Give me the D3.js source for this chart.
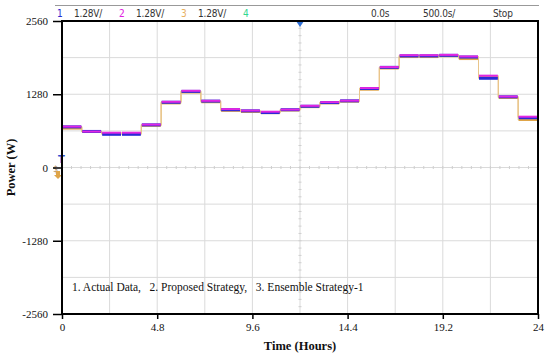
<!DOCTYPE html>
<html>
<head>
<meta charset="utf-8">
<script src="https://cdn.jsdelivr.net/npm/d3@7"></script>
<style>
	body { margin: 0; background: #fff; }
	svg { display: block; }
	.hdr { font-family: "DejaVu Sans Condensed", "Liberation Sans Narrow", "Arial Narrow", sans-serif; font-stretch: condensed; font-size: 10px; letter-spacing: -0.2px; fill: #333; }
	.axis text { font-family: "Liberation Serif", "Times New Roman", serif; font-size: 11px; fill: #111; }
	.title { font-family: "Liberation Serif", "Times New Roman", serif; font-size: 12.5px; font-weight: bold; fill: #111; }
</style>
</head>
<body>
<svg id="chart" width="550" height="360"></svg>
<script>
// hourly power (W)
var hours = d3.range(0, 24);
var actual = [710, 630, 580, 580, 745, 1140, 1330, 1160, 1010, 990, 960, 1010,
	1070, 1135, 1165, 1380, 1750, 1950, 1950, 1960, 1930, 1559, 1235, 870];
var proposed = [715, 628, 608, 608, 750, 1148, 1340, 1165, 1020, 995, 975, 1012,
	1078, 1142, 1168, 1388, 1755, 1962, 1962, 1968, 1940, 1605, 1240, 888];
var ensemble = [680, 620, 595, 595, 728, 1120, 1310, 1140, 990, 970, 950, 995,
	1055, 1120, 1150, 1360, 1730, 1930, 1930, 1945, 1895, 1580, 1215, 830];

var xTicks = [0, 4.8, 9.6, 14.4, 19.2, 24];
var yTicks = [-2560, -1280, 0, 1280, 2560];
var legendText = '1. Actual Data,   2. Proposed Strategy,   3. Ensemble Strategy-1';
var header = [
	{t: '1', x: 57, c: '#2a2ad0'}, {t: '1.28V/', x: 74, c: '#333'},
	{t: '2', x: 119, c: '#e020e0'}, {t: '1.28V/', x: 136, c: '#333'},
	{t: '3', x: 181, c: '#e8b060'}, {t: '1.28V/', x: 198, c: '#333'},
	{t: '4', x: 243, c: '#30d890'},
	{t: '0.0s', x: 371, c: '#333'}, {t: '500.0s/', x: 423, c: '#333'}, {t: 'Stop', x: 493, c: '#333'}
];

var L = 62, R = 538, T = 21, B = 314;
var svg = d3.select('#chart');

var x = d3.scaleLinear().domain([0, 24]).range([L, R]);
var y = d3.scaleLinear().domain([-2560, 2560]).range([B, T]);

// scope header strip
svg.append('line')
	.attr('x1', 55).attr('x2', 539).attr('y1', 5.5).attr('y2', 5.5)
	.attr('stroke', '#999').attr('stroke-width', 1);
svg.selectAll('.hdr').data(header).enter().append('text')
	.attr('class', 'hdr')
	.attr('x', d => d.x).attr('y', 17)
	.style('fill', d => d.c)
	.text(d => d.t);

// graticule
var g = svg.append('g');
g.selectAll('.vg').data(d3.range(2.4, 24, 2.4)).enter().append('line')
	.attr('x1', d => x(d)).attr('x2', d => x(d))
	.attr('y1', T).attr('y2', B)
	.attr('stroke', '#dadada').attr('stroke-width', 1);
g.selectAll('.hg').data(d3.range(-1920, 2560, 640)).enter().append('line')
	.attr('x1', L).attr('x2', R)
	.attr('y1', d => y(d)).attr('y2', d => y(d))
	.attr('stroke', '#dadada').attr('stroke-width', 1);
// minor ticks on centre lines
g.selectAll('.mx').data(d3.range(0, 24.01, 0.48)).enter().append('line')
	.attr('x1', d => x(d)).attr('x2', d => x(d))
	.attr('y1', y(0) - 1.5).attr('y2', y(0) + 1.5)
	.attr('stroke', '#cfcfcf');
g.selectAll('.my').data(d3.range(-2560, 2561, 128)).enter().append('line')
	.attr('x1', x(12) - 1.5).attr('x2', x(12) + 1.5)
	.attr('y1', d => y(d)).attr('y2', d => y(d))
	.attr('stroke', '#cfcfcf');

// traces
var series = [
	{v: ensemble, c: '#dfa548', w: 2},
	{v: actual, c: '#2a2ad6', w: 3},
	{v: proposed, c: '#e326e3', w: 2}
];
var step = d3.line().curve(d3.curveStepAfter).x(d => x(d[0])).y(d => y(d[1]));
series.forEach(function(s) {
	var pts = hours.map(h => [h, s.v[h]]);
	pts.push([24, s.v[23]]);
	svg.append('path').datum(pts)
		.attr('d', step)
		.attr('fill', 'none')
		.attr('stroke', '#e9c58a')
		.attr('stroke-width', 1);
});
series.forEach(function(s) {
	svg.append('g').selectAll('line').data(hours).enter().append('line')
		.attr('x1', h => x(h) + 0.5).attr('x2', h => x(h + 1) - 0.5)
		.attr('y1', h => y(s.v[h])).attr('y2', h => y(s.v[h]))
		.attr('stroke', s.c)
		.attr('stroke-width', s.w);
});

// trigger / channel markers
svg.append('text').attr('x', 58).attr('y', 163)
	.style('font', 'bold 10px "DejaVu Sans", sans-serif').style('fill', '#3050d0').text('T');
svg.append('text').attr('x', 53).attr('y', 172)
	.style('font', '8px "DejaVu Sans", sans-serif').style('fill', '#b09060').text('$');
svg.append('path')
	.attr('d', 'M56,171 L60,171 L60,175 L62,175 L58,179 L54,175 L56,175 Z')
	.attr('fill', '#dfa548');
svg.append('path')
	.attr('d', 'M' + (x(12) - 4) + ',' + T + ' L' + (x(12) + 4) + ',' + T + ' L' + x(12) + ',' + (T + 6) + ' Z')
	.attr('fill', '#2f6fd6');

// axes
svg.append('g').attr('class', 'axis')
	.attr('transform', 'translate(0,' + B + ')')
	.call(d3.axisBottom(x).tickValues(xTicks).tickSize(5).tickPadding(4).tickFormat(d => String(d)))
	.call(a => a.select('.domain').remove())
	.call(a => a.selectAll('line').attr('stroke', '#000').attr('stroke-width', 1.5));
svg.append('g').attr('class', 'axis')
	.attr('transform', 'translate(' + L + ',0)')
	.call(d3.axisLeft(y).tickValues(yTicks).tickSize(9).tickPadding(5).tickFormat(d => String(d)))
	.call(a => a.select('.domain').remove())
	.call(a => a.selectAll('line').attr('stroke', '#000').attr('stroke-width', 1.5));

// frame
svg.append('rect')
	.attr('x', L).attr('y', T).attr('width', R - L).attr('height', B - T)
	.attr('fill', 'none').attr('stroke', '#000').attr('stroke-width', 2);

svg.append('text')
	.attr('x', 72).attr('y', 291)
	.style('font-family', '"Liberation Serif", serif').style('font-size', '11.5px').style('fill', '#111')
	.style('white-space', 'pre').attr('xml:space', 'preserve')
	.text(legendText);

svg.append('text').attr('class', 'title')
	.attr('text-anchor', 'middle')
	.attr('transform', 'translate(15,' + y(0) + ') rotate(-90)')
	.text('Power (W)');
svg.append('text').attr('class', 'title')
	.attr('text-anchor', 'middle')
	.attr('x', x(12)).attr('y', 350)
	.text('Time (Hours)');
</script>
</body>
</html>
